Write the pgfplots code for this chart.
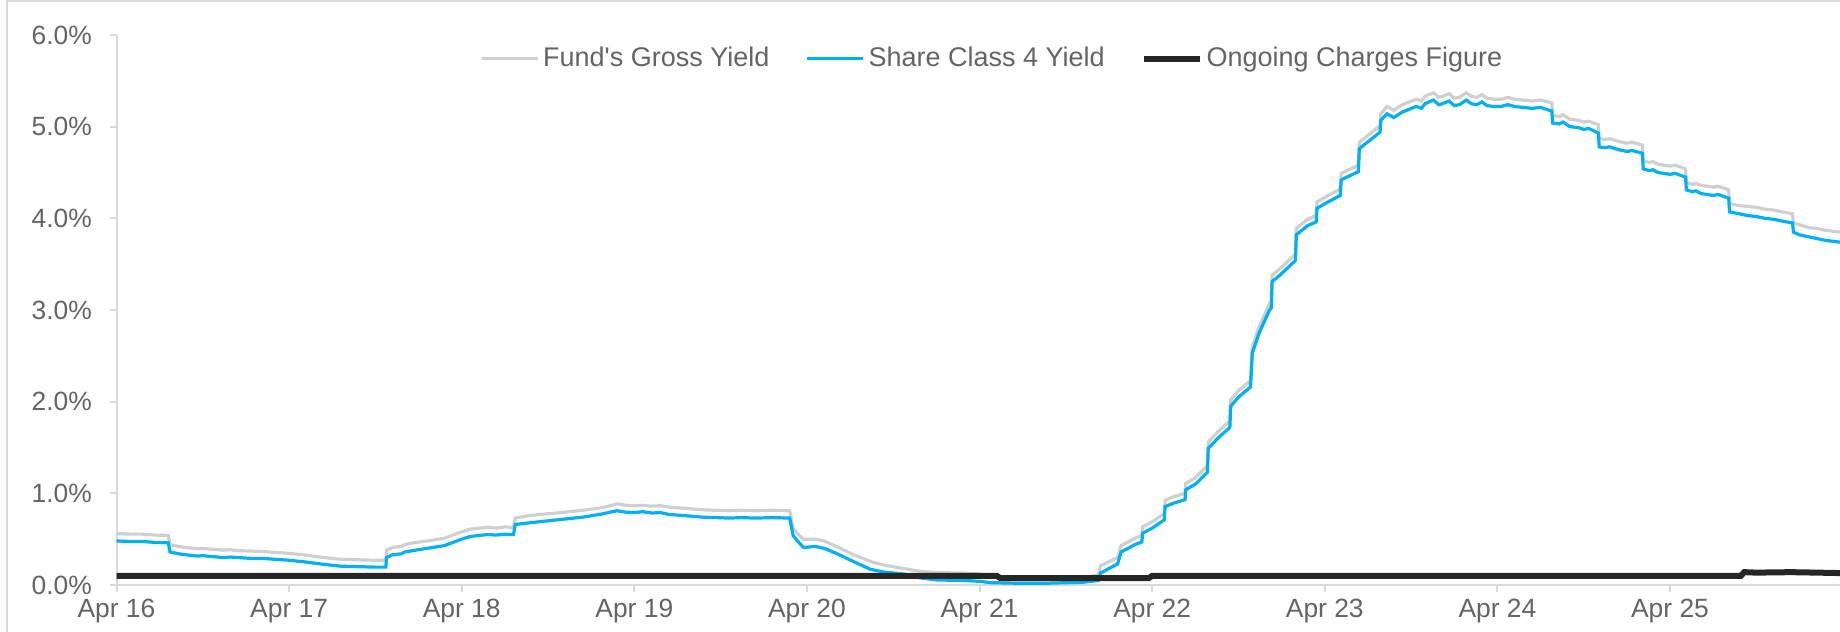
\documentclass[border=0pt]{standalone}
\usepackage{fontspec}
\setmainfont{Liberation Sans}
\usepackage{pgfplots}
\usepackage{pgfplotstable}
\pgfplotsset{compat=1.18}

\definecolor{grossgrey}{HTML}{CFCFCF}
\definecolor{shareblue}{HTML}{00B0F0}
\definecolor{ocfblack}{HTML}{262626}
\definecolor{axgrey}{HTML}{D9D9D9}
\definecolor{labelgrey}{HTML}{646464}

% t = years since April 2016; yields in %
\pgfplotstableread{
t      gross  share
0.00   0.56   0.48
0.08   0.555  0.475
0.15   0.555  0.475
0.22   0.545  0.465
0.30   0.54   0.46
0.31   0.44   0.36
0.36   0.42   0.34
0.40   0.41   0.33
0.47   0.395  0.315
0.50   0.40   0.32
0.55   0.39   0.31
0.62   0.38   0.30
0.66   0.385  0.305
0.70   0.375  0.30
0.78   0.37   0.29
0.85   0.365  0.29
0.92   0.355  0.28
1.00   0.345  0.27
1.10   0.325  0.25
1.20   0.30   0.225
1.30   0.28   0.205
1.40   0.275  0.20
1.50   0.27   0.195
1.56   0.27   0.195
1.565  0.38   0.30
1.60   0.41   0.33
1.65   0.42   0.34
1.67   0.44   0.36
1.70   0.455  0.37
1.80   0.48   0.40
1.90   0.51   0.43
2.00   0.58   0.50
2.05   0.61   0.53
2.15   0.63   0.55
2.20   0.62   0.545
2.25   0.635  0.555
2.30   0.625  0.55
2.31   0.73   0.66
2.40   0.76   0.68
2.55   0.785  0.71
2.70   0.815  0.74
2.80   0.84   0.77
2.85   0.86   0.79
2.90   0.885  0.81
2.95   0.87   0.795
3.00   0.865  0.79
3.05   0.87   0.80
3.10   0.86   0.785
3.15   0.865  0.79
3.20   0.85   0.77
3.30   0.835  0.755
3.40   0.82   0.74
3.48   0.815  0.735
3.55   0.81   0.73
3.62   0.815  0.735
3.70   0.81   0.73
3.80   0.815  0.735
3.90   0.81   0.73
3.92   0.62   0.54
3.95   0.55   0.47
3.98   0.50   0.41
4.05   0.50   0.42
4.10   0.48   0.40
4.17   0.42   0.345
4.27   0.33   0.255
4.37   0.255  0.17
4.45   0.215  0.14
4.56   0.18   0.12
4.65   0.15   0.08
4.75   0.135  0.055
4.90   0.13   0.05
5.00   0.12   0.04
5.07   0.10   0.025
5.20   0.08   0.02
5.40   0.065  0.02
5.60   0.08   0.03
5.69   0.11   0.05
5.70   0.21   0.13
5.80   0.30   0.23
5.82   0.43   0.36
5.90   0.51   0.44
5.94   0.54   0.47
5.945  0.635  0.565
6.00   0.69   0.62
6.07   0.78   0.71
6.075  0.925  0.855
6.12   0.96   0.89
6.19   1.00   0.93
6.195  1.11   1.04
6.25   1.17   1.10
6.32   1.30   1.23
6.325  1.56   1.49
6.38   1.67   1.60
6.45   1.79   1.72
6.455  2.02   1.95
6.50   2.12   2.05
6.57   2.23   2.16
6.58   2.60   2.53
6.62   2.82   2.75
6.68   3.07   3.00
6.69   3.09   3.02
6.695  3.38   3.31
6.74   3.45   3.38
6.83   3.61   3.54
6.835  3.89   3.82
6.90   3.99   3.92
6.95   4.03   3.96
6.955  4.18   4.11
7.02   4.25   4.18
7.09   4.32   4.25
7.095  4.49   4.42
7.15   4.54   4.47
7.195  4.58   4.51
7.20   4.83   4.76
7.26   4.92   4.85
7.32   5.01   4.94
7.325  5.14   5.07
7.36   5.22   5.14
7.40   5.18   5.10
7.45   5.24   5.16
7.53   5.30   5.22
7.56   5.28   5.20
7.58   5.33   5.25
7.63   5.37   5.29
7.66   5.32   5.24
7.68   5.33   5.25
7.72   5.36   5.28
7.75   5.31   5.23
7.78   5.32   5.24
7.82   5.37   5.29
7.85   5.33   5.25
7.88   5.32   5.24
7.91   5.35   5.27
7.94   5.31   5.23
7.98   5.30   5.22
8.02   5.30   5.22
8.06   5.32   5.24
8.10   5.30   5.22
8.15   5.29   5.21
8.20   5.28   5.20
8.25   5.29   5.21
8.315  5.26   5.17
8.32   5.125  5.04
8.36   5.11   5.03
8.38   5.13   5.05
8.42   5.08   5.00
8.47   5.07   4.99
8.50   5.05   4.97
8.53   5.06   4.98
8.585  5.02   4.93
8.59   4.87   4.78
8.62   4.86   4.77
8.65   4.87   4.78
8.70   4.84   4.75
8.75   4.82   4.73
8.78   4.83   4.74
8.84   4.80   4.71
8.845  4.63   4.54
8.88   4.61   4.52
8.90   4.62   4.53
8.93   4.59   4.50
9.00   4.57   4.48
9.03   4.58   4.49
9.09   4.54   4.45
9.095  4.39   4.31
9.13   4.37   4.29
9.15   4.38   4.30
9.18   4.36   4.27
9.25   4.34   4.25
9.28   4.35   4.26
9.34   4.31   4.22
9.345  4.16   4.07
9.40   4.14   4.05
9.45   4.13   4.03
9.50   4.12   4.02
9.55   4.10   4.00
9.60   4.09   3.99
9.65   4.07   3.97
9.71   4.05   3.95
9.715  3.95   3.85
9.75   3.93   3.82
9.80   3.90   3.80
9.85   3.89   3.78
9.90   3.87   3.76
9.985  3.85   3.74
}\yields

\begin{document}
\begin{tikzpicture}
\useasboundingbox (0,0) rectangle (920bp,316bp);
% light frame around the chart
\draw[axgrey, line width=1.2bp] (3.5bp,0) -- (3.5bp,315.4bp) -- (922bp,315.4bp);
\begin{axis}[
  at={(58.25bp,23.5bp)}, anchor=south west,
  scale only axis, width=861.75bp, height=275bp,
  xmin=0, xmax=9.985, ymin=0, ymax=6,
  axis lines=left,
  axis line style={-, draw=axgrey, line width=1bp},
  tick align=outside,
  major tick length=3.5bp,
  tick style={draw=axgrey, line width=1bp},
  xtick={0,1,2,3,4,5,6,7,8,9},
  xticklabels={Apr 16,Apr 17,Apr 18,Apr 19,Apr 20,Apr 21,Apr 22,Apr 23,Apr 24,Apr 25},
  ytick={0,1,2,3,4,5,6},
  yticklabels={0.0\%,1.0\%,2.0\%,3.0\%,4.0\%,5.0\%,6.0\%},
  every tick label/.append style={font=\fontsize{13.2bp}{16bp}\selectfont, text=labelgrey},
  yticklabel style={xshift=-5.3bp},
  legend style={at={(0.5086,0.957)}, anchor=center, draw=none, fill=none,
    font=\fontsize{13.5bp}{16bp}\selectfont, text=labelgrey,
    /tikz/every even column/.append style={column sep=16bp}},
  legend columns=3,
  legend cell align=left,
  legend image code/.code={\draw[#1] (0bp,0bp) -- (28bp,0bp);},
]
\addplot[grossgrey, line width=1.6bp] table[x=t, y=gross] {\yields};
\addlegendentry{Fund\textquotesingle s Gross Yield}
\addplot[shareblue, line width=1.6bp] table[x=t, y=share] {\yields};
\addlegendentry{Share Class 4 Yield}
\addplot[ocfblack, line width=3bp] coordinates {
  (0,0.10) (5.10,0.10) (5.12,0.075) (5.98,0.075) (6.00,0.10)
  (9.41,0.10) (9.43,0.14) (9.50,0.135) (9.70,0.14) (9.85,0.135) (9.985,0.13)
};
\addlegendentry{Ongoing Charges Figure}
\end{axis}
\end{tikzpicture}
\end{document}
